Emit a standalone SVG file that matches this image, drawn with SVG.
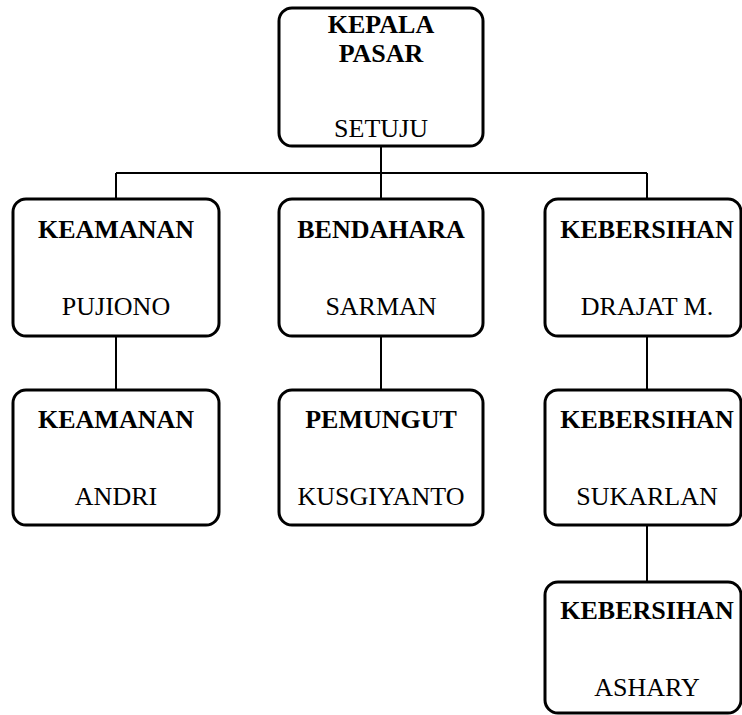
<svg xmlns="http://www.w3.org/2000/svg" width="742" height="715" viewBox="0 0 742 715">
<style>
.box{fill:#fff;stroke:#000;stroke-width:3}
.t{font-family:"Liberation Serif","Times New Roman",serif;font-size:26px;font-weight:bold;text-anchor:middle;fill:#000}
.n{font-family:"Liberation Serif","Times New Roman",serif;font-size:26px;text-anchor:middle;fill:#000}
.c{fill:none;stroke:#000;stroke-width:2}
</style>
<rect width="742" height="715" fill="#fff"/>
<g id="connectors">
<path class="c" d="M381 146V173M116 173H647M116 173V199M381 173V199M647 173V199"/>
<path class="c" d="M116 336V390M381 336V390M647 336V390M647 525V582"/>
</g>
<g id="kepala">
<rect class="box" x="279" y="8" width="204" height="138" rx="13"/>
<text class="t" x="381" y="33">KEPALA</text>
<text class="t" x="381" y="62">PASAR</text>
<text class="n" x="381" y="137">SETUJU</text>
</g>
<g id="keamanan1">
<rect class="box" x="13" y="199" width="206" height="137" rx="13"/>
<text class="t" x="116" y="238">KEAMANAN</text>
<text class="n" x="116" y="315">PUJIONO</text>
</g>
<g id="bendahara">
<rect class="box" x="279" y="199" width="204" height="137" rx="13"/>
<text class="t" x="381" y="238">BENDAHARA</text>
<text class="n" x="381" y="315">SARMAN</text>
</g>
<g id="kebersihan1">
<rect class="box" x="545" y="199" width="196" height="137" rx="13"/>
<text class="t" x="647" y="238">KEBERSIHAN</text>
<text class="n" x="647" y="315">DRAJAT M.</text>
</g>
<g id="keamanan2">
<rect class="box" x="13" y="390" width="206" height="135" rx="13"/>
<text class="t" x="116" y="428">KEAMANAN</text>
<text class="n" x="116" y="505">ANDRI</text>
</g>
<g id="pemungut">
<rect class="box" x="279" y="390" width="204" height="135" rx="13"/>
<text class="t" x="381" y="428">PEMUNGUT</text>
<text class="n" x="381" y="505">KUSGIYANTO</text>
</g>
<g id="kebersihan2">
<rect class="box" x="545" y="390" width="196" height="135" rx="13"/>
<text class="t" x="647" y="428">KEBERSIHAN</text>
<text class="n" x="647" y="505">SUKARLAN</text>
</g>
<g id="kebersihan3">
<rect class="box" x="545" y="582" width="196" height="131" rx="13"/>
<text class="t" x="647" y="619">KEBERSIHAN</text>
<text class="n" x="647" y="696">ASHARY</text>
</g>
</svg>
